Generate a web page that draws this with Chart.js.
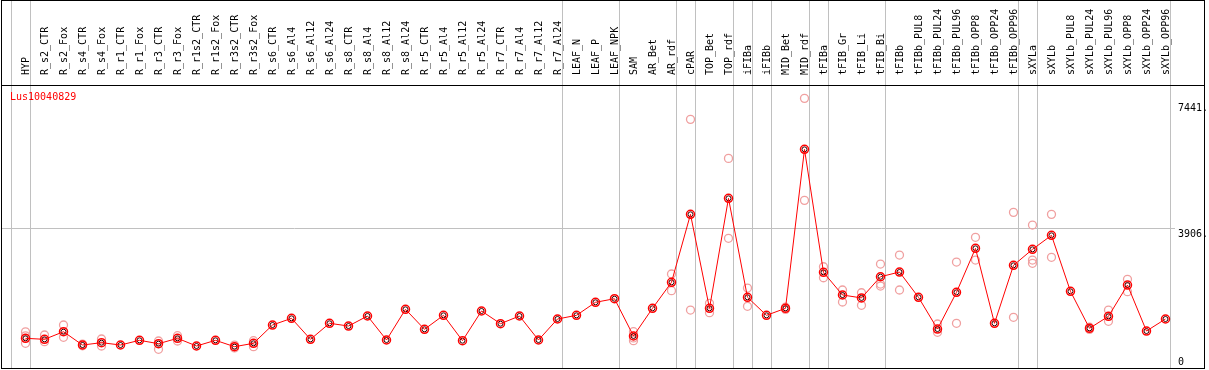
<!DOCTYPE html>
<html>
<head>
<meta charset="utf-8">
<script src="https://cdn.jsdelivr.net/npm/chart.js@4/dist/chart.umd.min.js"></script>
<style>
  html, body { margin: 0; padding: 0; background: #fff; }
  #wrap { width: 1209px; height: 370px; position: relative; }
</style>
</head>
<body>
<div id="wrap"><canvas id="lineChart"></canvas></div>
<script>
// sample names, left to right
var categories = ['HYP', 'R_s2_CTR', 'R_s2_Fox', 'R_s4_CTR', 'R_s4_Fox', 'R_r1_CTR', 'R_r1_Fox',
    'R_r3_CTR', 'R_r3_Fox', 'R_r1s2_CTR', 'R_r1s2_Fox', 'R_r3s2_CTR', 'R_r3s2_Fox',
    'R_s6_CTR', 'R_s6_Al4', 'R_s6_Al12', 'R_s6_Al24', 'R_s8_CTR', 'R_s8_Al4', 'R_s8_Al12', 'R_s8_Al24',
    'R_r5_CTR', 'R_r5_Al4', 'R_r5_Al12', 'R_r5_Al24', 'R_r7_CTR', 'R_r7_Al4', 'R_r7_Al12', 'R_r7_Al24',
    'LEAF_N', 'LEAF_P', 'LEAF_NPK', 'SAM', 'AR_Bet', 'AR_rdf', 'cPAR', 'TOP_Bet', 'TOP_rdf',
    'iFIBa', 'iFIBb', 'MID_Bet', 'MID_rdf', 'tFIBa', 'tFIB_Gr', 'tFIB_Li', 'tFIB_Bi', 'tFIBb',
    'tFIBb_PUL8', 'tFIBb_PUL24', 'tFIBb_PUL96', 'tFIBb_OPP8', 'tFIBb_OPP24', 'tFIBb_OPP96',
    'sXYLa', 'sXYLb', 'sXYLb_PUL8', 'sXYLb_PUL24', 'sXYLb_PUL96', 'sXYLb_OPP8', 'sXYLb_OPP24', 'sXYLb_OPP96'];

// mean expression per sample
var meanValues = [830, 802, 1015, 643, 708, 643, 774, 680, 830, 615, 774, 596, 690,
    1202, 1389, 802, 1250, 1174, 1454, 783, 1641,
    1082, 1473, 764, 1594, 1239, 1454, 783, 1370,
    1473, 1837, 1937, 895, 1669, 2396, 4297, 1669, 4744,
    1977, 1473, 1669, 6114, 2675, 2041, 1960, 2552, 2684,
    1977, 1090, 2116, 3346, 1250, 2871,
    3318, 3710, 2144, 1110, 1445, 2320, 1034, 1370];

// replicates (null = not visible / hidden behind the mean)
var rep1 = [1010, 923, 1202, 670, 811, null, null, 755, 903, null, null, 640, 764,
    null, null, null, null, null, null, null, null,
    null, null, null, null, null, null, null, null,
    null, null, null, 1015, null, 2628, 6953, 1809, 5862,
    2236, null, 1700, 7540, 2832, 2181, 2105, 2907, 3159,
    null, 1230, 2963, 3654, null, 4353,
    3998, 4297, null, 1140, 1621, 2480, null, null];
var rep2 = [690, 735, 858, 620, 615, null, null, 522, 755, null, null, 560, 596,
    null, null, null, null, null, null, null, null,
    null, null, null, null, null, null, null, null,
    null, null, null, 764, null, 2161, 1621, 1546, 3626,
    1725, null, 1640, 4688, 2524, 1845, 1753, 2292, 2181,
    null, 998, 1250, 3019, null, 1417,
    2927, 3095, null, 1080, 1306, 2133, null, null];
var rep3 = [900, null, null, null, null, null, null, null, null, null, null, null, null,
    null, null, null, null, null, null, null, null,
    null, null, null, null, null, null, null, null,
    null, null, null, 840, null, null, null, null, null,
    null, null, null, null, null, null, null, 2348, null,
    null, null, null, null, null, null,
    3019, null, null, null, null, null, null, null];

// last sample of each group (-1 = left edge before the first sample)
var groupEnds = [-1, 0, 28, 31, 34, 35, 37, 38, 39, 41, 42, 45, 52, 53, 60];

var yTicks = [0, 3906, 7441];
var geneName = 'Lus10040829';

var FONT = '10px "DejaVu Sans Mono", monospace';

function toPoints(values) {
    var pts = [];
    values.forEach(function (v, i) {
        if (v !== null) pts.push({ x: i, y: v });
    });
    return pts;
}

var replicatePoints = toPoints(rep1).concat(toPoints(rep2)).concat(toPoints(rep3));

// frame, group lines, gene name and y labels
var framePlugin = {
    id: 'frame',
    beforeDatasetsDraw: function (chart) {
        var ctx = chart.ctx;
        var xs = chart.scales.x, ys = chart.scales.y;
        var area = chart.chartArea;
        ctx.save();
        ctx.strokeStyle = '#c0c0c0';
        ctx.lineWidth = 1;
        groupEnds.forEach(function (i) {
            var px = Math.round(xs.getPixelForValue(i) + 4.5) + 0.5;
            ctx.beginPath();
            ctx.moveTo(px, 0);
            ctx.lineTo(px, area.bottom);
            ctx.stroke();
        });
        var gy = Math.round(ys.getPixelForValue(yTicks[1])) + 0.5;
        var lastX = Math.round(xs.getPixelForValue(groupEnds[groupEnds.length - 1]) + 9.5);
        ctx.beginPath();
        ctx.moveTo(area.left, gy);
        ctx.lineTo(lastX, gy);
        ctx.stroke();
        ctx.restore();
    },
    afterDraw: function (chart) {
        var ctx = chart.ctx;
        var xs = chart.scales.x, ys = chart.scales.y;
        var area = chart.chartArea;
        var labelX = Math.round(xs.getPixelForValue(groupEnds[groupEnds.length - 1]) + 12.5);
        ctx.save();
        ctx.strokeStyle = '#000';
        ctx.lineWidth = 1;
        ctx.strokeRect(area.left + 0.5, 0.5, area.right - area.left - 1, area.bottom);
        ctx.beginPath();
        ctx.moveTo(area.left, area.top - 0.5);
        ctx.lineTo(area.right, area.top - 0.5);
        ctx.stroke();

        ctx.font = FONT;
        ctx.fillStyle = '#ff0000';
        ctx.textAlign = 'left';
        ctx.textBaseline = 'middle';
        ctx.fillText(geneName, area.left + 9, area.top + 11);

        ctx.fillStyle = '#000';
        yTicks.forEach(function (v) {
            var py = ys.getPixelForValue(v);
            if (v === 0) {
                ctx.textBaseline = 'bottom';
                ctx.fillText('0', labelX, py - 1);
            } else {
                ctx.textBaseline = 'top';
                ctx.fillText(v + '.', labelX, py + 1);
            }
        });
        ctx.restore();
    }
};

var ctx1 = document.getElementById('lineChart').getContext('2d');
var lineChart = new Chart(ctx1, {
    type: 'line',
    data: {
        datasets: [{
            label: 'mean',
            data: toPoints(meanValues),
            borderColor: '#ff0000',
            borderWidth: 1,
            pointRadius: 4,
            pointBorderWidth: 1.5,
            pointBorderColor: '#ff0000',
            pointBackgroundColor: 'rgba(0,0,0,0)',
            tension: 0
        }, {
            label: 'mean core',
            data: toPoints(meanValues),
            showLine: false,
            pointRadius: 2.5,
            pointBorderWidth: 1,
            pointBorderColor: '#300000',
            pointBackgroundColor: 'rgba(0,0,0,0)'
        }, {
            label: 'replicates',
            data: replicatePoints,
            showLine: false,
            pointRadius: 4,
            pointBorderWidth: 1.3,
            pointBorderColor: '#f0a0a0',
            pointBackgroundColor: 'rgba(0,0,0,0)'
        }]
    },
    options: {
        responsive: true,
        maintainAspectRatio: false,
        animation: false,
        layout: { autoPadding: false, padding: { top: 1, left: 1, right: 4, bottom: 2 } },
        plugins: {
            legend: { display: false },
            tooltip: { enabled: false }
        },
        scales: {
            x: {
                type: 'linear',
                position: 'top',
                min: -1.29,
                max: 62.08,
                grid: { display: false },
                border: { display: false },
                afterBuildTicks: function (scale) {
                    scale.ticks = categories.map(function (c, i) { return { value: i }; });
                },
                afterFit: function (scale) { scale.height = 85; },
                ticks: {
                    autoSkip: false,
                    minRotation: 90,
                    maxRotation: 90,
                    padding: 3,
                    labelOffset: 12.5,
                    color: '#000',
                    font: { family: '"DejaVu Sans Mono", monospace', size: 10 },
                    callback: function (v) { return categories[v]; }
                }
            },
            y: {
                display: false,
                min: 0,
                max: 7886
            }
        }
    },
    plugins: [framePlugin]
});
</script>
</body>
</html>
